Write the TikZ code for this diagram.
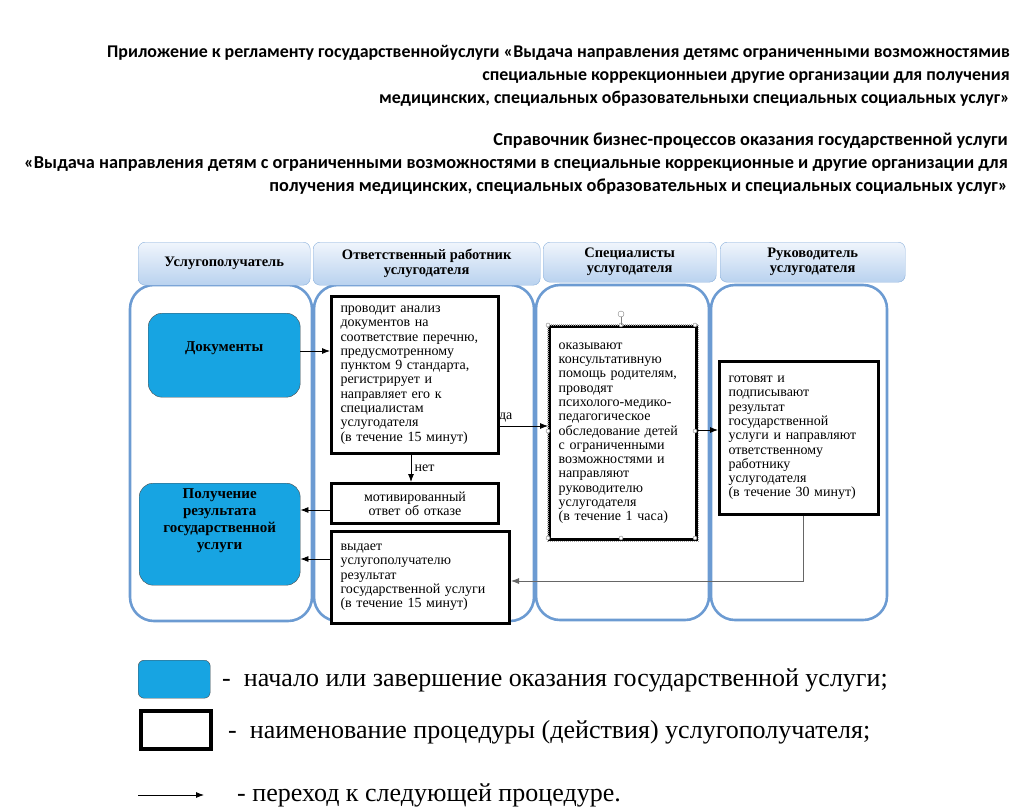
\documentclass[tikz,border=0pt]{standalone}
\usepackage{fontspec}
\setmainfont{Liberation Serif}
\newfontfamily\headfont{Carlito}
\usepackage{tikz}
\usetikzlibrary{arrows.meta}

\definecolor{laneblue}{HTML}{6C9BD2}
\definecolor{startblue}{HTML}{17A4E2}
\definecolor{headtop}{HTML}{F0F5FC}
\definecolor{headbot}{HTML}{B9D2EF}

\begin{document}
\begin{tikzpicture}[x=1pt,y=-1pt,>={Latex[length=8pt,width=6pt]},
    lane/.style={draw=laneblue,line width=2.6pt,rounded corners=24pt},
    lanehead/.style={draw=laneblue!80,top color=headtop,bottom color=headbot,rounded corners=7pt,
        anchor=north west,align=center,font=\fontsize{14.5}{15}\selectfont\bfseries},
    startbox/.style={draw=black!70,fill=startblue,rounded corners=14pt,anchor=north west,align=center,
        font=\fontsize{15}{17}\selectfont\bfseries},
    procbox/.style={draw=black,line width=3pt,fill=white,anchor=north west,align=left,inner xsep=9pt,
        font=\fontsize{14}{14.3}\selectfont},
    link/.style={->,line width=0.8pt},
    handle/.style={circle,draw=gray,fill=white,inner sep=0pt,minimum size=4pt}]
  \useasboundingbox (0,0) rectangle (1024,808);

  % title lines
  \node[anchor=north east,align=right,inner sep=0pt,font=\headfont\bfseries\fontsize{17.9}{23}\selectfont] (app) at (1010,45)
    {Приложение к регламенту государственнойуслуги «Выдача направления детямс ограниченными возможностямив\\
     специальные коррекционныеи другие организации для получения\\
     медицинских, специальных образовательныхи специальных социальных услуг»};
  \node[anchor=north east,align=right,inner sep=0pt,font=\headfont\bfseries\fontsize{18.3}{23}\selectfont] (ref) at (1008,133)
    {Справочник бизнес-процессов оказания государственной услуги\\
     «Выдача направления детям с ограниченными возможностями в специальные коррекционные и другие организации для\\
     получения медицинских, специальных образовательных и специальных социальных услуг»};

  % lanes
  \draw[lane] (130,285) rectangle (312,621);
  \draw[lane] (314,285) rectangle (534,621);
  \draw[lane] (536,285) rectangle (709,620);
  \draw[lane] (711,285) rectangle (887,620);

  \node[lanehead,minimum width=172pt,minimum height=43pt] (h1) at (138,242) {Услугополучатель};
  \node[lanehead,minimum width=227pt,minimum height=43pt] (h2) at (313,242) {Ответственный работник\\услугодателя};
  \node[lanehead,minimum width=173pt,minimum height=40pt] (h3) at (543,242) {Специалисты\\услугодателя};
  \node[lanehead,minimum width=185pt,minimum height=40pt] (h4) at (720,242) {Руководитель\\услугодателя};

  % start and end
  \node[startbox,minimum width=152pt,minimum height=84pt] (docs) at (148,313) {Документы\\[0pt]};
  \node[startbox,minimum width=161pt,minimum height=102pt] (result) at (139,483)
    {Получение\\результата\\государственной\\услуги\\[14pt]};

  % procedures
  \node[procbox,text width=149pt,minimum height=157pt] (check) at (330,295)
    {проводит анализ\\документов на\\соответствие перечню,\\предусмотренному\\пунктом 9 стандарта,\\регистрирует и\\направляет его к\\специалистам\\услугодателя\\(в течение 15 минут)};
  \node[procbox,text width=129pt,minimum height=213pt,line width=3.4pt] (exam) at (548,325)
    {оказывают\\консультативную\\помощь родителям,\\проводят\\психолого-медико-\\педагогическое\\обследование детей\\с ограниченными\\возможностями и\\направляют\\руководителю\\услугодателя\\(в течение 1 часа)};
  \draw[gray!70,line width=1.2pt,dash pattern=on 1pt off 1pt] (exam.north west) rectangle (exam.south east);
  \node[procbox,text width=141pt,minimum height=153pt] (sign) at (718,360)
    {готовят и\\подписывают\\результат\\государственной\\услуги и направляют\\ответственному\\работнику\\услугодателя\\(в течение 30 минут)};
  \node[procbox,align=center,text width=149pt,minimum height=40pt] (refuse) at (330,482)
    {мотивированный\\ответ об отказе};
  \node[procbox,text width=160pt,minimum height=92pt] (issue) at (330,530)
    {выдает\\услугополучателю\\результат\\государственной услуги\\(в течение 15 минут)};

  % selection handles
  \foreach \hx/\hy in {548/325,621/325,695/325,548/431,695/431,548/538,621/538,695/538}
    \node[handle] at (\hx,\hy) {};
  \draw[gray] (621,325) -- (621,316);
  \node[handle,minimum size=6pt] (rot) at (621,314) {};

  % arrows
  \draw[link] (docs.east |- 0,351) -- (check.west |- 0,351);
  \draw[link] (check.east |- 0,426) -- (exam.west |- 0,426) node[pos=0.12,above,font=\fontsize{14}{14}\selectfont] {да};
  \draw[link] (check.south -| 411,0) -- (refuse.north -| 411,0) node[midway,right,font=\fontsize{14}{14}\selectfont] {нет};
  \draw[link] (exam.east |- 0,430) -- (sign.west |- 0,430);
  \draw[link] (refuse.west |- 0,510) -- (result.east |- 0,510);
  \draw[link] (issue.west |- 0,559) -- (result.east |- 0,559);
  \draw[link,gray!80!black] (sign.south -| 803,0) -- (803,581) -- (issue.east |- 0,581);

  % legend
  \node[draw=black!70,fill=startblue,rounded corners=6pt,minimum width=72pt,minimum height=38pt,anchor=north west] (legstart) at (138,660) {};
  \node[anchor=west,inner sep=0pt,font=\fontsize{26}{28}\selectfont] (legstarttxt) at (222,680) {-\ \ начало или завершение оказания государственной услуги;};
  \node[draw=black,line width=3.5pt,minimum width=70pt,minimum height=38pt,anchor=north west] (legproc) at (139,709) {};
  \node[anchor=west,inner sep=0pt,font=\fontsize{26}{28}\selectfont] (legproctxt) at (228,732) {-\ \ наименование процедуры (действия) услугополучателя;};
  \coordinate (legfrom) at (138,795);
  \coordinate (legto) at (204,795);
  \draw[link] (legfrom) -- (legto);
  \node[anchor=west,inner sep=0pt,font=\fontsize{26}{28}\selectfont] (legarrtxt) at (237,795) {- переход к следующей процедуре.};
\end{tikzpicture}
\end{document}
